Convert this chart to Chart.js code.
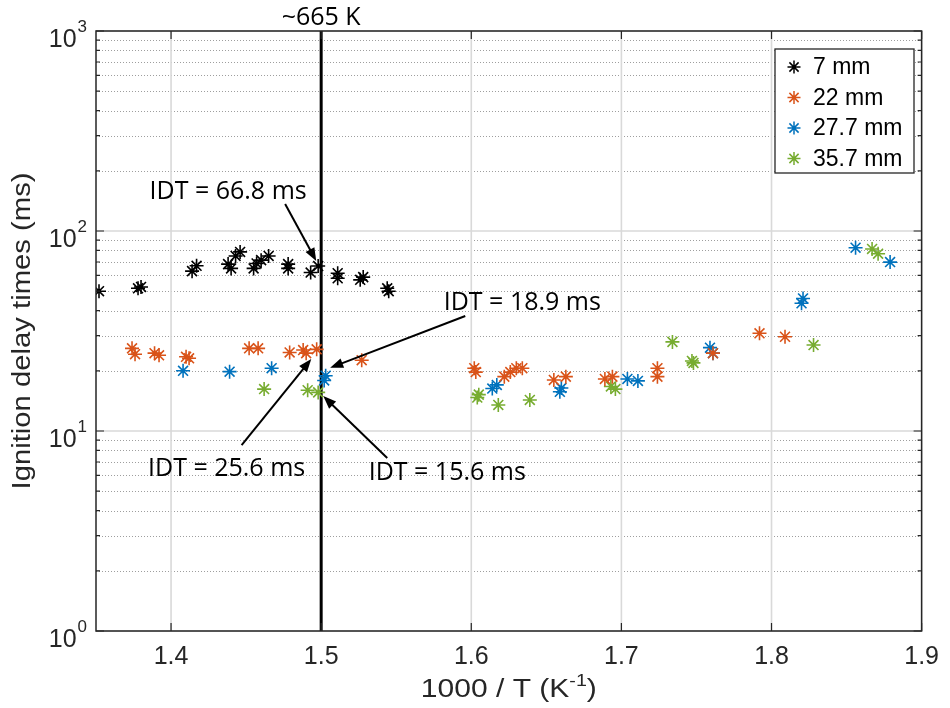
<!DOCTYPE html>
<html>
<head>
<meta charset="utf-8">
<title>Ignition delay times</title>
<script src="https://cdn.jsdelivr.net/npm/chart.js@4.4.1/dist/chart.umd.min.js"></script>
<style>
  html, body { margin: 0; padding: 0; background: #fff; }
  #wrap { width: 950px; height: 708px; }
</style>
</head>
<body>
<div id="wrap"><canvas id="chart" width="950" height="708"></canvas></div>
<script>
// 1000/T (1/K) and ignition delay time (ms) for each position
const x7 = [1.352, 1.378, 1.380, 1.414, 1.417, 1.438, 1.440, 1.443, 1.446, 1.455, 1.457, 1.460, 1.465, 1.478, 1.478, 1.493, 1.498, 1.511, 1.511, 1.526, 1.528, 1.544, 1.545];
const y7 = [50, 51.7, 52.5, 63, 67, 68.3, 65, 75, 78.6, 65, 68.8, 71.5, 75, 68.3, 65, 62, 66.8, 61.5, 58, 57, 58.8, 51.7, 50];

const x22 = [1.374, 1.376, 1.389, 1.392, 1.410, 1.412, 1.452, 1.458, 1.479, 1.488, 1.490, 1.497, 1.527, 1.602, 1.603, 1.622, 1.626, 1.630, 1.634, 1.655, 1.663, 1.689, 1.694, 1.724, 1.724, 1.761, 1.792, 1.809];
const y22 = [25.9, 24.2, 24.5, 23.9, 23.5, 23.1, 25.9, 25.9, 24.7, 25.4, 24.5, 25.6, 22.6, 20.6, 19.7, 18.7, 19.7, 20.6, 20.6, 18.0, 18.7, 18.2, 18.7, 20.6, 18.7, 24.5, 30.8, 29.6];

const x277 = [1.408, 1.439, 1.467, 1.502, 1.503, 1.614, 1.617, 1.659, 1.660, 1.704, 1.711, 1.759, 1.761, 1.820, 1.821, 1.856, 1.879];
const y277 = [20.0, 19.8, 20.6, 17.9, 18.9, 16.3, 17.0, 15.7, 16.4, 18.2, 17.8, 26.1, 24.5, 43.5, 46, 82.5, 69.9];

const x357 = [1.462, 1.491, 1.498, 1.604, 1.605, 1.618, 1.639, 1.693, 1.696, 1.734, 1.747, 1.748, 1.828, 1.867, 1.871];
const y357 = [16.2, 16.0, 15.6, 14.7, 15.2, 13.5, 14.3, 16.7, 16.2, 27.9, 22.4, 21.9, 26.9, 81.3, 77];

const xTicks = [1.4, 1.5, 1.6, 1.7, 1.8, 1.9];
const yTicks = [1, 10, 100, 1000];
const markX = 1.5;          // ~665 K
const markLabel = '~665 K';

// callouts: text centre, arrow tail, arrow tip (data units)
const notes = [
  { text: 'IDT = 66.8 ms', at: [1.438, 157], from: [1.476, 136.5], to: [1.4967, 70.8] },
  { text: 'IDT = 18.9 ms', at: [1.634, 43.7], from: [1.596, 37.6], to: [1.506, 20.7] },
  { text: 'IDT = 25.6 ms', at: [1.437, 6.5], from: [1.447, 8.5], to: [1.4934, 22.9] },
  { text: 'IDT = 15.6 ms', at: [1.584, 6.2], from: [1.544, 7.33], to: [1.5014, 14.96] }
];

const pts = (xs, ys) => xs.map((x, i) => ({ x, y: ys[i] }));

const AXIS_FONT = "'Liberation Sans', Arial, sans-serif";
const NOTE_FONT = "'Open Sans', sans-serif";
const INK = '#262626';

function star(label, color, data) {
  return {
    label, data,
    pointStyle: 'star', pointRadius: 7, pointHoverRadius: 7,
    borderColor: color, backgroundColor: color, pointBorderWidth: 1.6,
    showLine: false
  };
}

const axesPlugin = {
  id: 'axesPlugin',
  beforeDatasetsDraw(chart) {
    const { ctx, chartArea: a, scales: { x, y } } = chart;
    ctx.save();
    // minor log grid, dotted
    ctx.strokeStyle = 'rgba(0,0,0,0.38)';
    ctx.lineWidth = 1;
    ctx.setLineDash([1, 2]);
    for (let d = 0; d < yTicks.length - 1; d++) {
      for (let k = 2; k <= 9; k++) {
        const py = Math.round(y.getPixelForValue(k * yTicks[d])) + 0.5;
        ctx.beginPath(); ctx.moveTo(a.left, py); ctx.lineTo(a.right, py); ctx.stroke();
      }
    }
    ctx.setLineDash([]);
    // major grid
    ctx.strokeStyle = '#d9d9d9';
    ctx.lineWidth = 1.6;
    xTicks.forEach(v => {
      const px = x.getPixelForValue(v);
      ctx.beginPath(); ctx.moveTo(px, a.top); ctx.lineTo(px, a.bottom); ctx.stroke();
    });
    yTicks.forEach(v => {
      const py = y.getPixelForValue(v);
      ctx.beginPath(); ctx.moveTo(a.left, py); ctx.lineTo(a.right, py); ctx.stroke();
    });
    ctx.restore();
  },
  afterDatasetsDraw(chart) {
    const { ctx, chartArea: a, scales: { x, y } } = chart;
    ctx.save();
    // box
    ctx.strokeStyle = INK;
    ctx.lineWidth = 1.5;
    ctx.strokeRect(a.left, a.top, a.right - a.left, a.bottom - a.top);
    // tick marks, pointing inward
    ctx.lineWidth = 1.2;
    ctx.beginPath();
    xTicks.forEach(v => {
      const px = x.getPixelForValue(v);
      ctx.moveTo(px, a.bottom); ctx.lineTo(px, a.bottom - 8);
      ctx.moveTo(px, a.top); ctx.lineTo(px, a.top + 8);
    });
    for (let d = 0; d < yTicks.length; d++) {
      const py = y.getPixelForValue(yTicks[d]);
      ctx.moveTo(a.left, py); ctx.lineTo(a.left + 8, py);
      ctx.moveTo(a.right, py); ctx.lineTo(a.right - 8, py);
      if (d === yTicks.length - 1) break;
      for (let k = 2; k <= 9; k++) {
        const pm = y.getPixelForValue(k * yTicks[d]);
        ctx.moveTo(a.left, pm); ctx.lineTo(a.left + 4, pm);
        ctx.moveTo(a.right, pm); ctx.lineTo(a.right - 4, pm);
      }
    }
    ctx.stroke();
    ctx.restore();
  },
  afterDraw(chart) {
    const { ctx, chartArea: a, scales: { x, y } } = chart;
    ctx.save();
    ctx.fillStyle = INK;
    ctx.textBaseline = 'alphabetic';

    // y tick labels 10^n
    yTicks.forEach(v => {
      const py = y.getPixelForValue(v);
      const exp = String(Math.round(Math.log10(v)));
      ctx.font = `17px ${AXIS_FONT}`;
      ctx.textAlign = 'right';
      const sw = ctx.measureText(exp).width;
      ctx.fillText(exp, a.left - 9, py + 1);
      ctx.font = `25px ${AXIS_FONT}`;
      ctx.fillText('10', a.left - 9 - sw - 1, py + 16);
    });

    // y title, widened a little to the axis-label spacing
    ctx.save();
    ctx.font = `26px ${AXIS_FONT}`;
    const yTitle = 'Ignition delay times (ms)';
    const ysx = 317 / ctx.measureText(yTitle).width;
    ctx.translate(23, (a.top + a.bottom) / 2);
    ctx.rotate(-Math.PI / 2);
    ctx.scale(ysx, 1);
    ctx.textAlign = 'center';
    ctx.textBaseline = 'middle';
    ctx.fillText(yTitle, 0, 0);
    ctx.restore();

    // x title with superscript
    ctx.save();
    ctx.textAlign = 'left';
    const base = '1000 / T (K', sup = '-1', tail = ')';
    ctx.font = `26px ${AXIS_FONT}`;
    const wb = ctx.measureText(base).width, wt = ctx.measureText(tail).width;
    ctx.font = `17px ${AXIS_FONT}`;
    const ws = ctx.measureText(sup).width;
    const wAll = wb + ws + wt;
    const xsx = 176 / wAll;
    ctx.translate((a.left + a.right) / 2 - 88, 697);
    ctx.scale(xsx, 1);
    ctx.font = `26px ${AXIS_FONT}`;
    ctx.fillText(base, 0, 0);
    ctx.font = `17px ${AXIS_FONT}`;
    ctx.fillText(sup, wb, -11);
    ctx.font = `26px ${AXIS_FONT}`;
    ctx.fillText(tail, wb + ws, 0);
    ctx.restore();

    // label over the vertical marker
    ctx.fillStyle = '#000';
    ctx.font = `25px ${NOTE_FONT}`;
    ctx.textAlign = 'center';
    ctx.textBaseline = 'middle';
    ctx.fillText(markLabel, x.getPixelForValue(markX), 18);

    // callouts
    notes.forEach(n => {
      ctx.fillText(n.text, x.getPixelForValue(n.at[0]), y.getPixelForValue(n.at[1]));
      const x0 = x.getPixelForValue(n.from[0]), y0 = y.getPixelForValue(n.from[1]);
      const x1 = x.getPixelForValue(n.to[0]), y1 = y.getPixelForValue(n.to[1]);
      const ang = Math.atan2(y1 - y0, x1 - x0);
      const L = 13, W = 5;
      ctx.strokeStyle = '#000';
      ctx.lineWidth = 2;
      ctx.beginPath();
      ctx.moveTo(x0, y0);
      ctx.lineTo(x1 - (L - 2) * Math.cos(ang), y1 - (L - 2) * Math.sin(ang));
      ctx.stroke();
      ctx.beginPath();
      ctx.moveTo(x1, y1);
      ctx.lineTo(x1 - L * Math.cos(ang) + W * Math.sin(ang), y1 - L * Math.sin(ang) - W * Math.cos(ang));
      ctx.lineTo(x1 - L * Math.cos(ang) - W * Math.sin(ang), y1 - L * Math.sin(ang) + W * Math.cos(ang));
      ctx.closePath();
      ctx.fill();
    });

    // legend
    const items = chart.data.datasets.filter(d => d.pointStyle === 'star');
    const lx = 775, ly = 49, lw = 139, lh = 124;
    ctx.fillStyle = '#fff';
    ctx.fillRect(lx, ly, lw, lh);
    ctx.strokeStyle = INK;
    ctx.lineWidth = 1.3;
    ctx.strokeRect(lx, ly, lw, lh);
    ctx.textAlign = 'left';
    ctx.textBaseline = 'middle';
    ctx.font = `23px ${AXIS_FONT}`;
    items.forEach((d, i) => {
      const ry = ly + 18 + i * 30.5;
      ctx.strokeStyle = d.borderColor;
      ctx.fillStyle = d.borderColor;
      ctx.lineWidth = 1.5;
      Chart.helpers.drawPoint(ctx, { pointStyle: 'star', radius: 6.5, borderWidth: 1.5, rotation: 0 }, lx + 19, ry);
      ctx.fillStyle = '#000';
      ctx.fillText(d.label, lx + 38, ry + 1);
    });
    ctx.restore();
  }
};

new Chart(document.getElementById('chart'), {
  type: 'scatter',
  data: {
    datasets: [
      star('7 mm', '#000000', pts(x7, y7)),
      star('22 mm', '#D95319', pts(x22, y22)),
      star('27.7 mm', '#0072BD', pts(x277, y277)),
      star('35.7 mm', '#77AC30', pts(x357, y357)),
      {
        label: markLabel,
        data: [{ x: markX, y: yTicks[0] }, { x: markX, y: yTicks[yTicks.length - 1] }],
        showLine: true, borderColor: '#000', borderWidth: 3, pointRadius: 0, pointHoverRadius: 0
      }
    ]
  },
  options: {
    responsive: false,
    animation: false,
    devicePixelRatio: 1,
    layout: { padding: { top: 31, right: 23, left: 0, bottom: 0 } },
    plugins: { legend: { display: false }, tooltip: { enabled: false } },
    scales: {
      x: {
        type: 'linear', min: 1.35, max: 1.9,
        afterBuildTicks: s => { s.ticks = xTicks.map(v => ({ value: v })); },
        afterFit: s => { s.height = 77; },
        grid: { display: false, drawTicks: false },
        border: { display: false },
        ticks: {
          padding: 11, color: INK, maxRotation: 0,
          font: { family: AXIS_FONT, size: 25 },
          callback: v => Number(v).toFixed(1)
        }
      },
      y: {
        type: 'logarithmic', min: 1, max: 1000,
        afterFit: s => { s.width = 96; },
        grid: { display: false, drawTicks: false },
        border: { display: false },
        ticks: { display: false }
      }
    }
  },
  plugins: [axesPlugin]
});
</script>
</body>
</html>
